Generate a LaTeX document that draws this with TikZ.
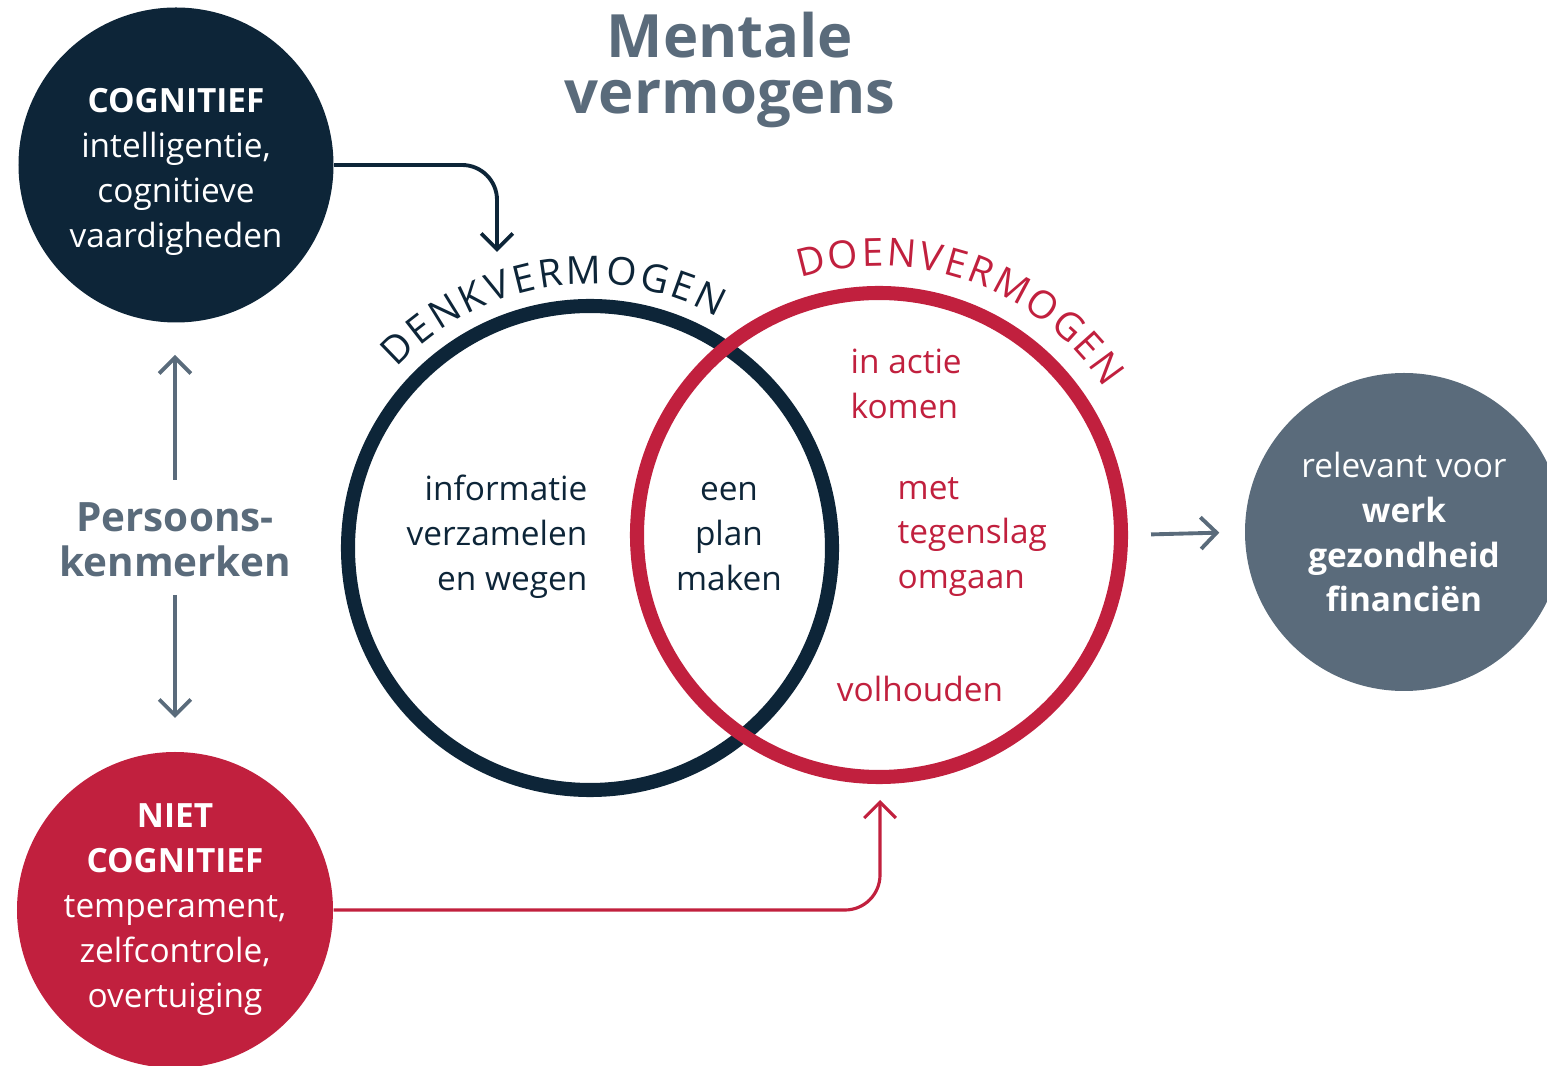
\documentclass[tikz,border=0pt]{standalone}
\usepackage{fontspec}
\setmainfont{Open Sans}
\usetikzlibrary{arrows.meta}
\usetikzlibrary{positioning}
\usetikzlibrary{decorations.text}
\definecolor{navy}{RGB}{13,37,56}
\definecolor{rood}{RGB}{193,32,62}
\definecolor{grijs}{RGB}{90,107,123}
\tikzset{bol/.style = {circle, inner sep = 0, align = center, text = white,
                       font = \fontsize{9.5}{12.8}\selectfont}}
\tikzset{ring/.style = {circle, draw, line width = 4pt, minimum size = 4.84cm}}
\tikzset{pijl/.style = {-{Straight Barb[length = 4.5pt, width = 9pt]}, line width = 1.1pt}}
\tikzset{tekst/.style = {inner sep = 0, font = \fontsize{9.5}{12.8}\selectfont}}

\begin{document}
\begin{tikzpicture}
    \useasboundingbox (0, 0) rectangle (15.47, 10.65);
    \clip (0, 0) rectangle (15.47, 10.65);

    \node [text = grijs, align = center, font = \fontsize{17}{16}\bfseries] (titel) at (7.30, 9.95) {Mentale\\vermogens};

    \node [bol, fill = navy, minimum size = 3.15cm] (cog) at (1.76, 9.00) {};
    \node [tekst, text = white, align = center] (cogtekst) at ([yshift = -0.07cm] cog.center)
        {\textbf{COGNITIEF}\\intelligentie,\\cognitieve\\vaardigheden};
    \node [bol, fill = rood, minimum size = 3.16cm] (niet) at (1.75, 1.55)
        {\textbf{NIET}\\\textbf{COGNITIEF}\\temperament,\\zelfcontrole,\\overtuiging};
    \node [bol, fill = grijs, minimum size = 3.18cm] (rel) at (14.04, 5.33)
        {relevant voor\\\textbf{werk}\\\textbf{gezondheid}\\\textbf{financiën}};

    \node [text = grijs, align = center, inner sep = 0, font = \fontsize{11.5}{12.8}\bfseries] (pk) at (1.75, 5.25)
        {Persoons-\\kenmerken};

    \node [ring, draw = navy] (denk) at (5.90, 5.17) {};
    \node [ring, draw = rood] (doen) at (8.79, 5.30) {};

    \path [decorate, decoration = {text along path, text align = fit to path,
           text = {|\fontsize{11}{12}\selectfont\color{navy}|DENKVERMOGEN}}]
        ([shift = {(137:2.64)}] denk.center) arc [start angle = 137, end angle = 61, radius = 2.64];
    \path [decorate, decoration = {text along path, text align = fit to path,
           text = {|\fontsize{11}{12}\selectfont\color{rood}|DOENVERMOGEN}}]
        ([shift = {(107:2.69)}] doen.center) arc [start angle = 107, end angle = 33, radius = 2.69];

    \node [tekst, text = navy, anchor = east, align = right] (info) at (5.88, 5.28)
        {informatie\\verzamelen\\en wegen};
    \node [tekst, text = navy, align = center] (plan) at (7.29, 5.28) {een\\plan\\maken};
    \node [tekst, text = rood, anchor = west, align = left] (actie) at (8.50, 6.81) {in actie\\komen};
    \node [tekst, text = rood, anchor = west, align = left] (tegen) at (8.97, 5.28) {met\\tegenslag\\omgaan};
    \node [tekst, text = rood] (vol) at (9.20, 3.76) {volhouden};

    \coordinate (cogtip) at (4.97, 8.13);
    \coordinate (niettip) at (8.80, 2.65);
    \draw [pijl, navy, rounded corners = 0.35cm] (cog.east) -| (cogtip);
    \draw [pijl, rood, line width = 0.9pt, rounded corners = 0.35cm] (niet.east) -| (niettip);

    \coordinate (pkboven) at (1.75, 7.10);
    \coordinate (pkonder) at (1.75, 3.47);
    \draw [pijl, grijs] (1.75, 5.85) -- (pkboven);
    \draw [pijl, grijs] (1.75, 4.70) -- (pkonder);
    \draw [pijl, grijs, shorten <= 0.23cm, shorten >= 0.25cm] (doen.east) -- (rel.west);
\end{tikzpicture}
\end{document}
